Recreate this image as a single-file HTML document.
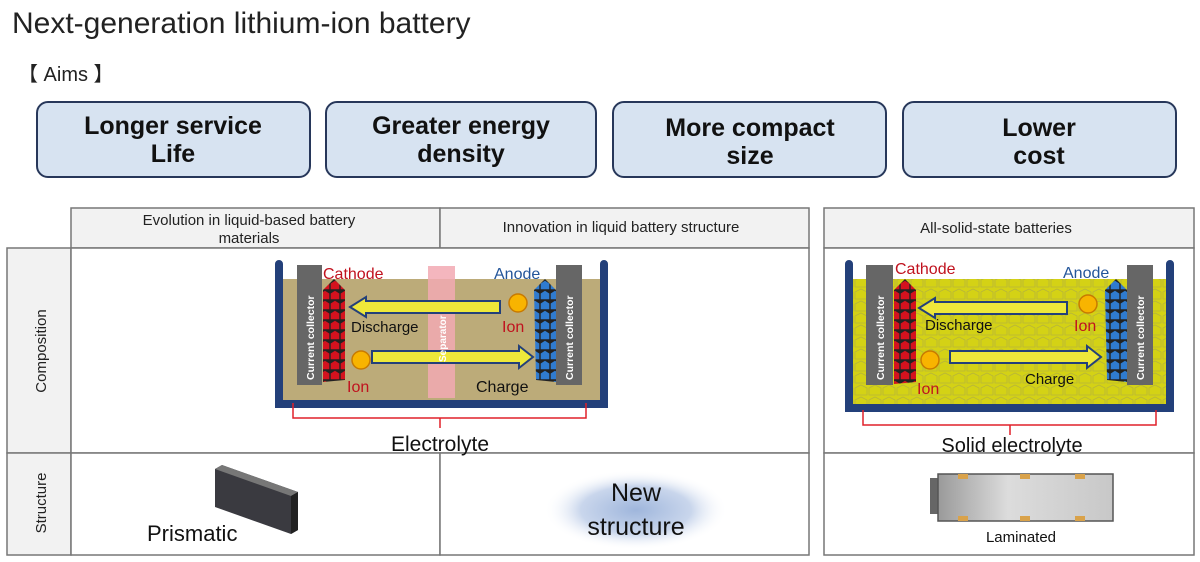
<!DOCTYPE html>
<html><head><meta charset="utf-8"><style>
body{margin:0;background:#fff;}
svg{display:block;font-family:"Liberation Sans",sans-serif;}
</style></head><body>
<svg width="1200" height="562" viewBox="0 0 1200 562" xmlns="http://www.w3.org/2000/svg">
<defs>
<pattern id="red" width="10" height="10" patternUnits="userSpaceOnUse">
<rect width="10" height="10" fill="#222"/>
<path d="M0.7 3.5 L5 0.7 L9.3 3.5 L9.3 9.3 L0.7 9.3Z" fill="#d4121e"/>
</pattern>
<pattern id="blue" width="10" height="10" patternUnits="userSpaceOnUse">
<rect width="10" height="10" fill="#222"/>
<path d="M0.7 3.5 L5 0.7 L9.3 3.5 L9.3 9.3 L0.7 9.3Z" fill="#2f7bd0"/>
</pattern>
<pattern id="solid" width="14" height="12" patternUnits="userSpaceOnUse">
<rect width="14" height="12" fill="#d4d215"/>
<path d="M1 4 L7 1 L13 4 L13 11 L1 11Z" fill="none" stroke="#b7b53a" stroke-width="0.8"/>
</pattern>
<radialGradient id="glow" cx="0.5" cy="0.5" r="0.5">
<stop offset="0" stop-color="#9fb6dc"/><stop offset="0.6" stop-color="#c9d6ec"/><stop offset="1" stop-color="#fff" stop-opacity="0"/>
</radialGradient>
<linearGradient id="lam" x1="0" y1="0" x2="1" y2="0">
<stop offset="0" stop-color="#9a9a9a"/><stop offset="0.4" stop-color="#dcdcdc"/><stop offset="1" stop-color="#c8c8c8"/>
</linearGradient>
</defs>

<text x="12" y="33" font-size="30" fill="#222">Next-generation lithium-ion battery</text>
<text x="18" y="81" font-size="20" fill="#222">【 Aims 】</text>

<g stroke="#27375a" stroke-width="2" fill="#d7e3f1">
<rect x="37" y="102" width="273" height="75" rx="11"/>
<rect x="326" y="102" width="270" height="75" rx="11"/>
<rect x="613" y="102" width="273" height="75" rx="11"/>
<rect x="903" y="102" width="273" height="75" rx="11"/>
</g>
<g font-size="25" font-weight="bold" fill="#111" text-anchor="middle">
<text x="173" y="134">Longer service</text><text x="173" y="162">Life</text>
<text x="461" y="134">Greater energy</text><text x="461" y="162">density</text>
<text x="750" y="136">More compact</text><text x="750" y="164">size</text>
<text x="1039" y="136">Lower</text><text x="1039" y="164">cost</text>
</g>

<g fill="#f2f2f2" stroke="#777" stroke-width="1.5">
<rect x="71" y="208" width="369" height="40"/>
<rect x="440" y="208" width="369" height="40"/>
<rect x="824" y="208" width="370" height="40"/>
<rect x="7" y="248" width="64" height="205"/>
<rect x="7" y="453" width="64" height="102"/>
</g>
<g fill="#fff" stroke="#777" stroke-width="1.5">
<rect x="71" y="248" width="738" height="205"/>
<rect x="824" y="248" width="370" height="205"/>
<rect x="71" y="453" width="369" height="102"/>
<rect x="440" y="453" width="369" height="102"/>
<rect x="824" y="453" width="370" height="102"/>
</g>
<g font-size="15" fill="#222" text-anchor="middle">
<text x="249" y="225">Evolution in liquid-based battery</text>
<text x="249" y="243">materials</text>
<text x="621" y="232">Innovation in liquid battery structure</text>
<text x="996" y="233">All-solid-state batteries</text>
</g>
<g font-size="15" fill="#222" text-anchor="middle">
<text transform="translate(46,351) rotate(-90)">Composition</text>
<text transform="translate(46,503) rotate(-90)">Structure</text>
</g>

<!-- liquid battery -->
<rect x="283" y="279" width="317" height="124" fill="#bcab79"/>
<path d="M279 264 V404 H604 V264" fill="none" stroke="#23407a" stroke-width="8" stroke-linecap="round"/>
<rect x="428" y="266" width="27" height="132" fill="#f2a9b3" opacity="0.85"/>
<rect x="297" y="265" width="25" height="120" fill="#666"/>
<rect x="556" y="265" width="26" height="120" fill="#666"/>
<text transform="translate(314,380) rotate(-90)" font-size="10.5" font-weight="bold" fill="#fff">Current collector</text>
<text transform="translate(573,380) rotate(-90)" font-size="10.5" font-weight="bold" fill="#fff">Current collector</text>
<path d="M323 290 L334 279 L345 290 V380 L323 382Z" fill="url(#red)"/>
<path d="M534 290 L545 279 L556 290 V382 L536 380Z" fill="url(#blue)"/>
<text x="323" y="279" font-size="16" fill="#c0121e">Cathode</text>
<text x="494" y="279" font-size="16" fill="#23559a">Anode</text>
<path d="M500 301 H366 V297 L350 307 L366 317 V313 H500Z" fill="#eee83a" stroke="#23407a" stroke-width="2"/>
<path d="M372 351 H519 V346 L533 357 L519 368 V363 H372Z" fill="#eee83a" stroke="#23407a" stroke-width="2"/>
<text transform="translate(446,362) rotate(-90)" font-size="10" font-weight="bold" fill="#fff">Separator</text>
<circle cx="518" cy="303" r="9" fill="#f8b400" stroke="#c87a00" stroke-width="1.5"/>
<circle cx="361" cy="360" r="9" fill="#f8b400" stroke="#c87a00" stroke-width="1.5"/>
<text x="351" y="332" font-size="15" fill="#111">Discharge</text>
<text x="502" y="332" font-size="16" fill="#c0121e">Ion</text>
<text x="347" y="392" font-size="16" fill="#c0121e">Ion</text>
<text x="476" y="392" font-size="16" fill="#111">Charge</text>
<path d="M293 403 V418 H586 V403 M440 418 V428" fill="none" stroke="#e0202a" stroke-width="1.5"/>
<text x="440" y="451" font-size="21" fill="#111" text-anchor="middle">Electrolyte</text>

<!-- solid battery -->
<rect x="852" y="279" width="314" height="126" fill="url(#solid)"/>
<path d="M849 264 V408 H1170 V264" fill="none" stroke="#23407a" stroke-width="8" stroke-linecap="round"/>
<rect x="866" y="265" width="27" height="120" fill="#666"/>
<rect x="1127" y="265" width="26" height="120" fill="#666"/>
<text transform="translate(884,380) rotate(-90)" font-size="10.5" font-weight="bold" fill="#fff">Current collector</text>
<text transform="translate(1144,380) rotate(-90)" font-size="10.5" font-weight="bold" fill="#fff">Current collector</text>
<path d="M894 290 L905 279 L916 290 V382 L894 384Z" fill="url(#red)"/>
<path d="M1105 290 L1116 279 L1127 290 V382 L1107 380Z" fill="url(#blue)"/>
<text x="895" y="274" font-size="16" fill="#c0121e">Cathode</text>
<text x="1063" y="278" font-size="16" fill="#23559a">Anode</text>
<path d="M1067 302 H935 V298 L919 308 L935 318 V314 H1067Z" fill="#eee83a" stroke="#23407a" stroke-width="2"/>
<path d="M950 351 H1087 V346 L1101 357 L1087 368 V363 H950Z" fill="#eee83a" stroke="#23407a" stroke-width="2"/>
<circle cx="1088" cy="304" r="9" fill="#f8b400" stroke="#c87a00" stroke-width="1.5"/>
<circle cx="930" cy="360" r="9" fill="#f8b400" stroke="#c87a00" stroke-width="1.5"/>
<text x="925" y="330" font-size="15" fill="#111">Discharge</text>
<text x="1074" y="331" font-size="16" fill="#c0121e">Ion</text>
<text x="917" y="394" font-size="16" fill="#c0121e">Ion</text>
<text x="1025" y="384" font-size="15" fill="#111">Charge</text>
<path d="M863 410 V425 H1156 V410 M1010 425 V435" fill="none" stroke="#e0202a" stroke-width="1.5"/>
<text x="1012" y="452" font-size="20" fill="#111" text-anchor="middle">Solid electrolyte</text>

<!-- structure row -->
<path d="M215 469 L222 465 L298 492 L298 530 L291 534 L215 507Z" fill="#3a3a40"/>
<path d="M215 469 L222 465 L298 492 L291 496Z" fill="#777"/>
<path d="M291 496 L298 492 L298 530 L291 534Z" fill="#222"/>
<text x="147" y="541" font-size="22" fill="#111">Prismatic</text>

<ellipse cx="636" cy="510" rx="92" ry="40" fill="url(#glow)"/>
<g font-size="25" fill="#111" text-anchor="middle">
<text x="636" y="501">New</text>
<text x="636" y="535">structure</text>
</g>

<rect x="930" y="478" width="12" height="36" fill="#666"/>
<rect x="938" y="474" width="175" height="47" fill="url(#lam)" stroke="#555" stroke-width="1.5"/>
<g fill="#d9a24a">
<rect x="958" y="474" width="10" height="5"/><rect x="1020" y="474" width="10" height="5"/><rect x="1075" y="474" width="10" height="5"/>
<rect x="958" y="516" width="10" height="5"/><rect x="1020" y="516" width="10" height="5"/><rect x="1075" y="516" width="10" height="5"/>
</g>
<text x="1021" y="542" font-size="15" fill="#111" text-anchor="middle">Laminated</text>
</svg>
</body></html>
